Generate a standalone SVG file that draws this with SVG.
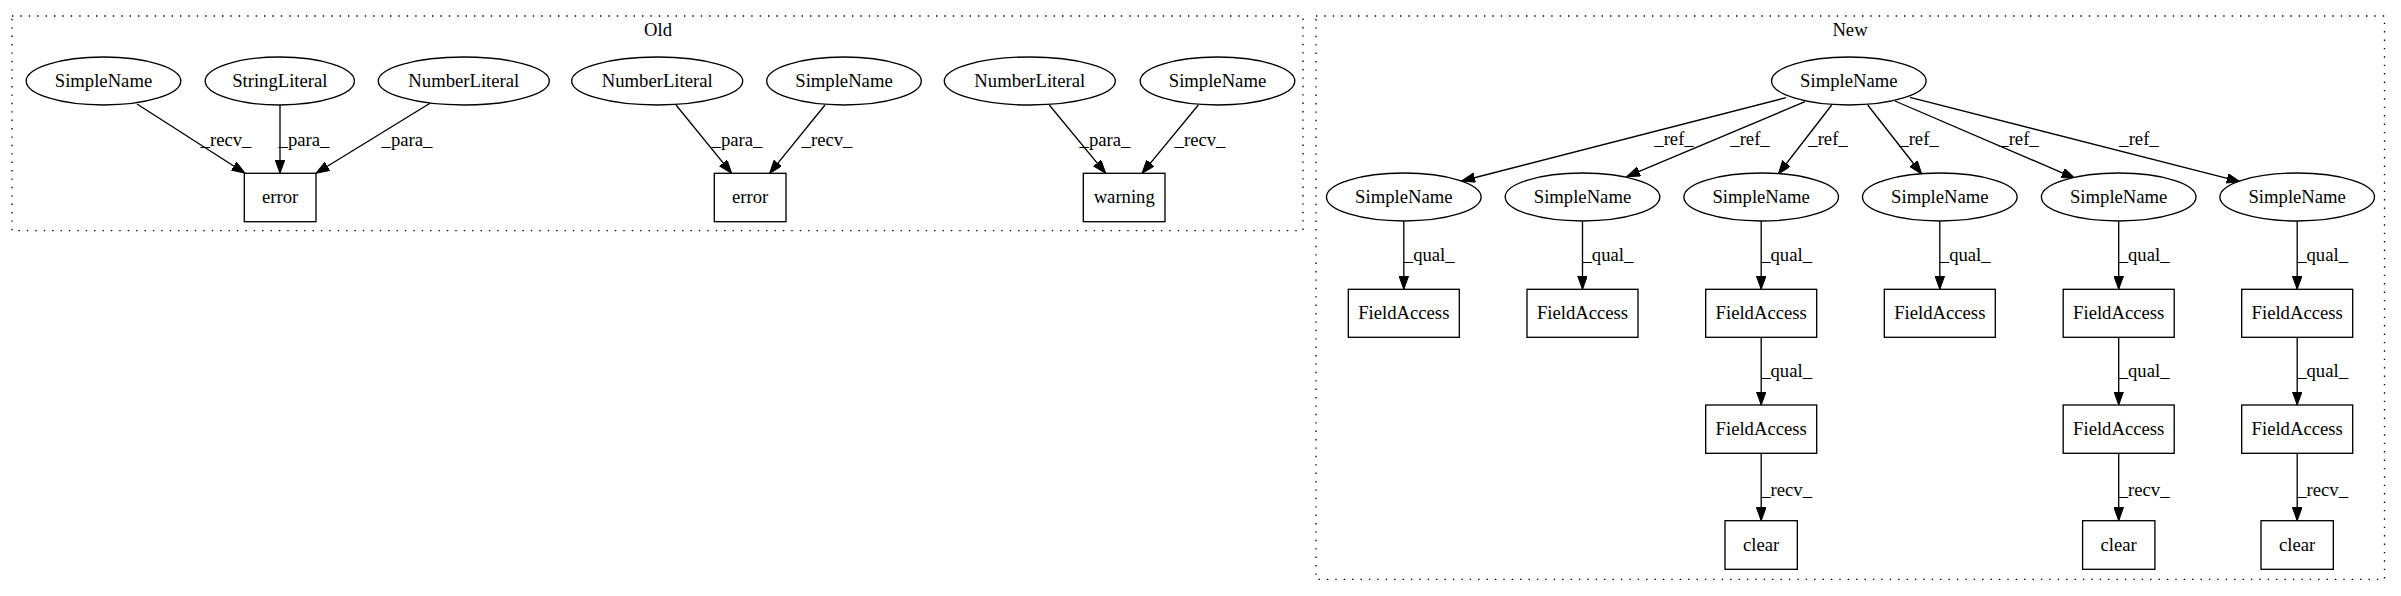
<svg xmlns="http://www.w3.org/2000/svg" width="2401" height="596" viewBox="0 0 2401 596">
<style>
text { font-family: "Liberation Serif", "Times New Roman", serif; font-size: 18.67px; text-anchor: middle; fill: #000; }
.nd ellipse, .nd rect { fill: #fff; stroke: #000; stroke-width: 1.33; }
.cl { fill: none; stroke: #000; stroke-width: 1.33; stroke-dasharray: 1.4,7; }
.e { fill: none; stroke: #000; stroke-width: 1.33; marker-end: url(#ah); }
</style>
<defs>
<marker id="ah" markerUnits="userSpaceOnUse" markerWidth="14" markerHeight="10" refX="13.3" refY="4.8" orient="auto">
<path d="M0,0 L13.3,4.8 L0,9.6 z" fill="#000" stroke="#000" stroke-width="1"/>
</marker>
</defs>
<rect x="0" y="0" width="2401" height="596" fill="#fff"/>

<g id="cluster_old">
<rect class="cl" x="12" y="16" width="1291" height="214.7"/>
<text x="658" y="36">Old</text>
</g>
<g id="cluster_new">
<rect class="cl" x="1316" y="16" width="1068.5" height="563.3"/>
<text x="1850" y="36">New</text>
</g>

<g id="edges">
<line class="e" x1="137" y1="104" x2="245" y2="173.3"/>
<text x="226" y="146">_recv_</text>
<line class="e" x1="280" y1="105" x2="280" y2="173.3"/>
<text x="304" y="146">_para_</text>
<line class="e" x1="430" y1="103.3" x2="316" y2="173.3"/>
<text x="407" y="146">_para_</text>
<line class="e" x1="676" y1="105" x2="731.7" y2="173.3"/>
<text x="737" y="146">_para_</text>
<line class="e" x1="825" y1="105" x2="769.6" y2="173.3"/>
<text x="827" y="146">_recv_</text>
<line class="e" x1="1049.3" y1="105" x2="1105.7" y2="173.3"/>
<text x="1105" y="146">_para_</text>
<line class="e" x1="1198.3" y1="105" x2="1142" y2="173.3"/>
<text x="1200" y="146">_recv_</text>

<line class="e" x1="1786" y1="97.7" x2="1461.7" y2="181"/>
<text x="1674" y="145">_ref_</text>
<line class="e" x1="1805" y1="101.7" x2="1626.7" y2="176.7"/>
<text x="1750" y="145">_ref_</text>
<line class="e" x1="1831.7" y1="105" x2="1778.3" y2="174"/>
<text x="1828" y="145">_ref_</text>
<line class="e" x1="1867.7" y1="105" x2="1921.7" y2="174"/>
<text x="1919" y="145">_ref_</text>
<line class="e" x1="1895" y1="101" x2="2075" y2="178.3"/>
<text x="2019" y="145">_ref_</text>
<line class="e" x1="1910" y1="97.3" x2="2240" y2="181.7"/>
<text x="2139" y="145">_ref_</text>

<line class="e" x1="1403.8" y1="221" x2="1403.8" y2="289.3"/>
<text x="1429.2" y="261">_qual_</text>
<line class="e" x1="1582.5" y1="221" x2="1582.5" y2="289.3"/>
<text x="1607.9" y="261">_qual_</text>
<line class="e" x1="1761.2" y1="221" x2="1761.2" y2="289.3"/>
<text x="1786.6" y="261">_qual_</text>
<line class="e" x1="1939.8" y1="221" x2="1939.8" y2="289.3"/>
<text x="1965.2" y="261">_qual_</text>
<line class="e" x1="2118.7" y1="221" x2="2118.7" y2="289.3"/>
<text x="2144.1" y="261">_qual_</text>
<line class="e" x1="2297.2" y1="221" x2="2297.2" y2="289.3"/>
<text x="2322.6" y="261">_qual_</text>

<line class="e" x1="1761.2" y1="337.3" x2="1761.2" y2="405"/>
<text x="1786.6" y="377">_qual_</text>
<line class="e" x1="2118.7" y1="337.3" x2="2118.7" y2="405"/>
<text x="2144.1" y="377">_qual_</text>
<line class="e" x1="2297.2" y1="337.3" x2="2297.2" y2="405"/>
<text x="2322.6" y="377">_qual_</text>

<line class="e" x1="1761.2" y1="453.3" x2="1761.2" y2="520.7"/>
<text x="1786.6" y="496">_recv_</text>
<line class="e" x1="2118.7" y1="453.3" x2="2118.7" y2="520.7"/>
<text x="2144.1" y="496">_recv_</text>
<line class="e" x1="2297.2" y1="453.3" x2="2297.2" y2="520.7"/>
<text x="2322.6" y="496">_recv_</text>
</g>

<g id="old_simplename1" class="nd"><ellipse cx="103.5" cy="81" rx="77.3" ry="24"/><text x="103.5" y="87">SimpleName</text></g>
<g id="old_stringliteral" class="nd"><ellipse cx="279.8" cy="81" rx="74.6" ry="24"/><text x="279.8" y="87">StringLiteral</text></g>
<g id="old_numberliteral1" class="nd"><ellipse cx="463.8" cy="81" rx="85.5" ry="24"/><text x="463.8" y="87">NumberLiteral</text></g>
<g id="old_error1" class="nd"><rect x="244.3" y="173.3" width="71.7" height="48.4"/><text x="280.2" y="203">error</text></g>

<g id="old_numberliteral2" class="nd"><ellipse cx="657.2" cy="81" rx="85.5" ry="24"/><text x="657.2" y="87">NumberLiteral</text></g>
<g id="old_simplename2" class="nd"><ellipse cx="844" cy="81" rx="77.3" ry="24"/><text x="844" y="87">SimpleName</text></g>
<g id="old_error2" class="nd"><rect x="714.3" y="173.3" width="71.7" height="48.4"/><text x="750.2" y="203">error</text></g>

<g id="old_numberliteral3" class="nd"><ellipse cx="1029.8" cy="81" rx="85.5" ry="24"/><text x="1029.8" y="87">NumberLiteral</text></g>
<g id="old_simplename3" class="nd"><ellipse cx="1217.5" cy="81" rx="77.3" ry="24"/><text x="1217.5" y="87">SimpleName</text></g>
<g id="old_warning" class="nd"><rect x="1083.3" y="173.3" width="81.7" height="48.4"/><text x="1124.2" y="203">warning</text></g>

<g id="new_simplename_top" class="nd"><ellipse cx="1848.8" cy="81" rx="77.3" ry="24"/><text x="1848.8" y="87">SimpleName</text></g>

<g id="new_simplename_a" class="nd"><ellipse cx="1403.8" cy="197" rx="77.3" ry="24"/><text x="1403.8" y="203">SimpleName</text></g>
<g id="new_simplename_b" class="nd"><ellipse cx="1582.5" cy="197" rx="77.3" ry="24"/><text x="1582.5" y="203">SimpleName</text></g>
<g id="new_simplename_c" class="nd"><ellipse cx="1761.2" cy="197" rx="77.3" ry="24"/><text x="1761.2" y="203">SimpleName</text></g>
<g id="new_simplename_d" class="nd"><ellipse cx="1939.8" cy="197" rx="77.3" ry="24"/><text x="1939.8" y="203">SimpleName</text></g>
<g id="new_simplename_e" class="nd"><ellipse cx="2118.7" cy="197" rx="77.3" ry="24"/><text x="2118.7" y="203">SimpleName</text></g>
<g id="new_simplename_f" class="nd"><ellipse cx="2297.2" cy="197" rx="77.3" ry="24"/><text x="2297.2" y="203">SimpleName</text></g>

<g id="new_fieldaccess_a" class="nd"><rect x="1348.3" y="289.3" width="111" height="48"/><text x="1403.8" y="319">FieldAccess</text></g>
<g id="new_fieldaccess_b" class="nd"><rect x="1527" y="289.3" width="111" height="48"/><text x="1582.5" y="319">FieldAccess</text></g>
<g id="new_fieldaccess_c" class="nd"><rect x="1705.7" y="289.3" width="111" height="48"/><text x="1761.2" y="319">FieldAccess</text></g>
<g id="new_fieldaccess_d" class="nd"><rect x="1884.3" y="289.3" width="111" height="48"/><text x="1939.8" y="319">FieldAccess</text></g>
<g id="new_fieldaccess_e" class="nd"><rect x="2063.2" y="289.3" width="111" height="48"/><text x="2118.7" y="319">FieldAccess</text></g>
<g id="new_fieldaccess_f" class="nd"><rect x="2241.7" y="289.3" width="111" height="48"/><text x="2297.2" y="319">FieldAccess</text></g>

<g id="new_fieldaccess_c2" class="nd"><rect x="1705.7" y="405" width="111" height="48.3"/><text x="1761.2" y="435">FieldAccess</text></g>
<g id="new_fieldaccess_e2" class="nd"><rect x="2063.2" y="405" width="111" height="48.3"/><text x="2118.7" y="435">FieldAccess</text></g>
<g id="new_fieldaccess_f2" class="nd"><rect x="2241.7" y="405" width="111" height="48.3"/><text x="2297.2" y="435">FieldAccess</text></g>

<g id="new_clear_c" class="nd"><rect x="1725" y="520.7" width="72.3" height="48.6"/><text x="1761.2" y="551">clear</text></g>
<g id="new_clear_e" class="nd"><rect x="2082.6" y="520.7" width="72.3" height="48.6"/><text x="2118.7" y="551">clear</text></g>
<g id="new_clear_f" class="nd"><rect x="2261" y="520.7" width="72.3" height="48.6"/><text x="2297.2" y="551">clear</text></g>
</svg>
